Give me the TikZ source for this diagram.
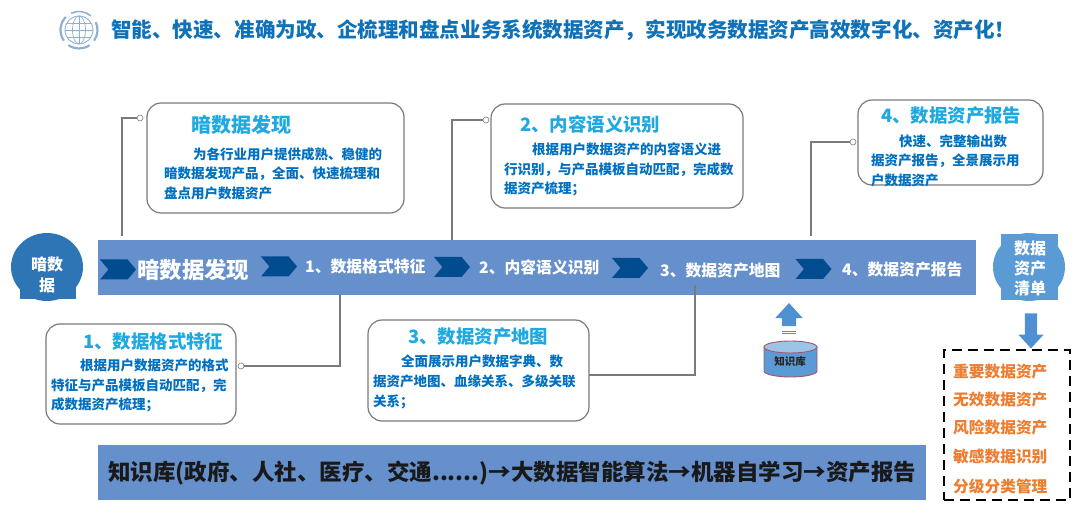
\documentclass[tikz,border=0pt]{standalone}
\usepackage{fontspec}
\setmainfont{Noto Sans CJK SC}
\usetikzlibrary{shapes.geometric,shapes.symbols,shapes.arrows}
\definecolor{BarBlue}{HTML}{6690CB}
\definecolor{NavyBlue}{HTML}{004C8F}
\definecolor{DeepBlue}{HTML}{2E75B6}
\definecolor{SkyBlue}{HTML}{5B9BD5}
\definecolor{ArrowBlue}{HTML}{4F90D3}
\definecolor{TitleBlue}{HTML}{0F72B8}
\definecolor{HeadCyan}{HTML}{1EA9E1}
\definecolor{BodyBlue}{HTML}{0070C0}
\definecolor{LineGray}{HTML}{7A7A7A}
\definecolor{GlobeBlue}{HTML}{8FB0D0}
\definecolor{TagOrange}{HTML}{ED7D31}
\definecolor{DbEdge}{HTML}{A5566E}
\tikzset{
  infobox/.style={draw=LineGray, line width=1.2pt, fill=white, rounded corners=14pt, inner sep=0pt},
  boxhead/.style={anchor=west, text=HeadCyan, inner sep=0pt, font=\fontsize{18.4}{22}\selectfont\bfseries},
  boxbody/.style={anchor=west, align=left, text=BodyBlue, inner sep=0pt, font=\fontsize{13.5}{19.6}\selectfont\bfseries},
  stepname/.style={anchor=west, text=white, inner sep=0pt, font=\fontsize{15.8}{19}\selectfont\bfseries},
  chevron/.style={signal, signal to=east, signal from=west, signal pointer angle=100, fill=NavyBlue, minimum width=36pt, minimum height=20pt, inner sep=0pt},
  leader/.style={draw=LineGray, line width=1.2pt},
  portdot/.style={circle, draw=LineGray, fill=white, line width=0.6pt, minimum size=6pt, inner sep=0pt},
  bandbar/.style={fill=BarBlue, inner sep=0pt},
  bubbletext/.style={align=center, text=white, inner sep=0pt, font=\fontsize{16}{20}\selectfont\bfseries},
  tagtext/.style={anchor=west, text=TagOrange, inner sep=0pt, font=\fontsize{15.7}{18}\selectfont\bfseries},
  bigarrow/.style={single arrow, fill=ArrowBlue, inner xsep=0pt, single arrow tip angle=85}
}
\begin{document}
\begin{tikzpicture}[x=1pt,y=-1pt]
            \useasboundingbox (0,0) rectangle (1080,518);
            % heading with globe
            \begin{scope}[shift={(79,30)},y=1pt]
            \draw[GlobeBlue, line width=0.9pt] (0,0) circle (14);
            \draw[GlobeBlue, line width=0.7pt] (0,0) ellipse (6.5 and 14);
            \draw[GlobeBlue, line width=0.7pt] (0,-14) -- (0,14) (-14,0) -- (14,0) (-12,7) -- (12,7) (-12,-7) -- (12,-7);
            \draw[GlobeBlue, line width=2.2pt] (135:18.5) arc[start angle=135, end angle=215, radius=18.5];
            \draw[GlobeBlue, line width=1.6pt] (50:18.5) arc[start angle=50, end angle=115, radius=18.5];
            \draw[GlobeBlue, line width=2.2pt] (-35:18.5) arc[start angle=-35, end angle=25, radius=18.5];
            \draw[GlobeBlue, line width=2.2pt] (235:18.5) arc[start angle=235, end angle=305, radius=18.5];
            \end{scope}
            \node[anchor=west, text=TitleBlue, inner sep=0pt, font=\fontsize{20.55}{24}\selectfont\bfseries] (heading) at (111,30) {智能、快速、准确为政、企梳理和盘点业务系统数据资产，实现政务数据资产高效数字化、资产化！};

            % main band
            \node[bandbar, minimum width=878pt, minimum height=55pt] (band) at (537,267.5) {};
            \node[chevron] (chevA) at (118,269.5) {};
            \node[chevron] (chevB) at (279,266.5) {};
            \node[chevron] (chevC) at (452,267) {};
            \node[chevron] (chevD) at (630,268) {};
            \node[chevron] (chevE) at (813.5,269) {};
            \node[stepname, font=\fontsize{22.4}{26}\selectfont\bfseries] (stepA) at (137,270) {暗数据发现};
            \node[stepname] (stepB) at (305,267) {1、数据格式特征};
            \node[stepname] (stepC) at (479,267) {2、内容语义识别};
            \node[stepname] (stepD) at (660,271) {3、数据资产地图};
            \node[stepname] (stepE) at (842,270) {4、数据资产报告};

            % side bubbles
            \node[fill=DeepBlue, inner sep=0pt, minimum width=56pt, minimum height=14pt] (darkFoot) at (48,292) {};
            \node[ellipse, fill=DeepBlue, inner sep=0pt, minimum width=72pt, minimum height=68pt] (darkDisc) at (47,267) {};
            \node[bubbletext, font=\fontsize{16}{21.5}\selectfont\bfseries] (darkText) at (47,275) {暗数\\据};
            \node[fill=SkyBlue, inner sep=0pt, minimum width=57pt, minimum height=66pt] (listCore) at (1029.5,267) {};
            \node[ellipse, fill=SkyBlue, inner sep=0pt, minimum width=72pt, minimum height=68pt] (listDisc) at (1029,267) {};
            \node[bubbletext] (listText) at (1030,268) {数据\\资产\\清单};

            % upper boxes
            \node[infobox, minimum width=257pt, minimum height=110pt] (boxA) at (275.5,158) {};
            \node[boxhead, font=\fontsize{20}{24}\selectfont\bfseries] (headA) at (191,125) {暗数据发现};
            \node[boxbody] (bodyA) at (164,173.5) {\hspace*{29pt}为各行业用户提供成熟、稳健的\\暗数据发现产品，全面、快速梳理和\\盘点用户数据资产};
            \node[infobox, minimum width=252pt, minimum height=104pt] (boxC) at (617,156) {};
            \node[boxhead] (headC) at (520,124) {2、内容语义识别};
            \node[boxbody] (bodyC) at (504,169.5) {\hspace*{28pt}根据用户数据资产的内容语义进\\行识别，与产品模板自动匹配，完成数\\据资产梳理；};
            \node[infobox, minimum width=185pt, minimum height=85pt] (boxE) at (950.5,142.5) {};
            \node[boxhead] (headE) at (881,116) {4、数据资产报告};
            \node[boxbody] (bodyE) at (871,160.5) {\hspace*{28pt}快速、完整输出数\\据资产报告，全景展示用\\户数据资产};

            % lower boxes
            \node[infobox, minimum width=190pt, minimum height=100pt] (boxB) at (141,374) {};
            \node[boxhead] (headB) at (83,342) {1、数据格式特征};
            \node[boxbody] (bodyB) at (51,385.5) {\hspace*{29pt}根据用户数据资产的格式\\特征与产品模板自动匹配，完\\成数据资产梳理；};
            \node[infobox, minimum width=221pt, minimum height=101pt] (boxD) at (478.5,370.5) {};
            \node[boxhead] (headD) at (408,337) {3、数据资产地图};
            \node[boxbody] (bodyD) at (373,382) {\hspace*{28pt}全面展示用户数据字典、数\\据资产地图、血缘关系、多级关联\\关系；};

            % leaders
            \node[portdot] (dotA) at (140,118) {};
            \node[portdot] (dotC) at (486,120) {};
            \node[portdot] (dotE) at (853,142) {};
            \node[portdot] (dotB) at (241,366) {};
            \coordinate (footA) at (122,236);
            \coordinate (footC) at (452,240);
            \coordinate (footE) at (811,236);
            \coordinate (footB) at (340,295);
            \coordinate (footD) at (695,285);
            \coordinate (portD) at (589,375);
            \draw[leader] (footA) |- (dotA);
            \draw[leader] (footC) |- (dotC);
            \draw[leader] (footE) |- (dotE);
            \draw[leader] (footB) |- (dotB);
            \draw[leader] (footD) |- (portD);

            % knowledge store
            \node[bigarrow, rotate=90, inner ysep=7pt, single arrow head extend=6.5pt, minimum height=23pt] (upArrow) at (789,318.5) {};
            \draw[ArrowBlue, line width=1pt] (782,331.5) -- (796,331.5) (782,333.8) -- (796,333.8);
            \draw[draw=DbEdge, fill=SkyBlue, line width=0.9pt] (764,347) -- (764,371) arc[start angle=180, end angle=360, x radius=26.5pt, y radius=6pt] -- (817,347) -- cycle;
            \draw[draw=DbEdge, fill=SkyBlue!60, line width=0.9pt] (790.5,347) ellipse (26.5 and 6);
            \node[inner sep=0pt, font=\fontsize{10.5}{12}\selectfont\bfseries, text=black!85] (storeText) at (790,361) {知识库};

            % bottom band
            \node[bandbar, minimum width=828pt, minimum height=55pt] (lowband) at (512,472.5) {};
            \node[anchor=west, inner sep=0pt, text=black!90, font=\fontsize{22.5}{26}\selectfont\bfseries] (lowtext) at (108,473) {知识库(政府、人社、医疗、交通......)→大数据智能算法→机器自学习→资产报告};

            % asset list
            \node[bigarrow, rotate=270, inner ysep=6pt, single arrow head extend=6.5pt, minimum height=35pt] (downArrow) at (1031,327.5) {};
            \node[draw=black, line width=1.8pt, dash pattern=on 10pt off 6pt, minimum width=126pt, minimum height=150pt, inner sep=0pt] (tagBox) at (1007,425) {};
            \node[tagtext] (tagA) at (953,372) {重要数据资产};
            \node[tagtext] (tagB) at (953,400) {无效数据资产};
            \node[tagtext] (tagC) at (953,428) {风险数据资产};
            \node[tagtext] (tagD) at (953,457) {敏感数据识别};
            \node[tagtext] (tagE) at (953,486) {分级分类管理};
        \end{tikzpicture}
\end{document}
